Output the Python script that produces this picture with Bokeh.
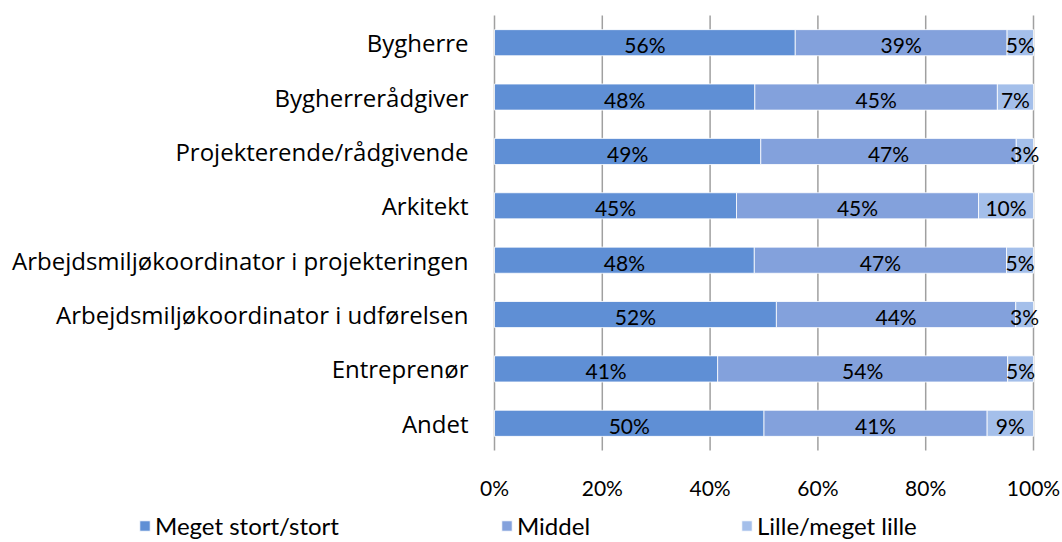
from bokeh.plotting import figure
from bokeh.models import (Range1d, FixedTicker, PrintfTickFormatter,
                          Legend, LegendItem, ColumnDataSource)
from bokeh.core.properties import value
from bokeh.embed import file_html
from bokeh.resources import INLINE

categories = ["Bygherre", "Bygherrerådgiver", "Projekterende/rådgivende", "Arkitekt",
              "Arbejdsmiljøkoordinator i projekteringen",
              "Arbejdsmiljøkoordinator i udførelsen", "Entreprenør", "Andet"]
series_names = ["Meget stort/stort", "Middel", "Lille/meget lille"]
meget = [55.8, 48.3, 49.4, 44.9, 48.2, 52.3, 41.4, 50.0]
middel = [39.3, 45.0, 47.4, 44.9, 46.8, 44.4, 53.8, 41.4]
lille = [4.9, 6.7, 3.2, 10.2, 5.0, 3.3, 4.8, 8.6]
x_ticks = [0, 20, 40, 60, 80, 100]
colors = ["#5f8fd5", "#83a1dc", "#a4bfea"]

# ---- layout geometry (pixels) ----
W, H = 1062, 542
PL, PR, PT, PB = 494, 1033, 15, 450          # plot area edges on the canvas
n = len(categories)
xscale = (PR - PL) / 100.0                    # px per percent
yscale = (PB - PT) / n                        # px per category
x_range = Range1d(-PL / xscale, 100 + (W - PR) / xscale)
y_range = Range1d(-(H - PB) / yscale, n + PT / yscale)

ypos = [n - i - 0.5 for i in range(n)]
src = ColumnDataSource(dict(y=ypos, meget=meget, middel=middel, lille=lille))

p = figure(width=W, height=H, x_range=x_range, y_range=y_range,
           output_backend="svg", toolbar_location=None,
           min_border_left=0, min_border_right=0, min_border_top=0, min_border_bottom=0)
p.outline_line_color = None
p.grid.visible = False

# vertical gridlines at the tick values, spanning the category block
p.segment(x0=x_ticks, y0=[0] * len(x_ticks), x1=x_ticks, y1=[n] * len(x_ticks),
          line_color="#a0a0a0", line_width=1.5, level="underlay")

rs = p.hbar_stack(["meget", "middel", "lille"], y="y", height=0.48, color=colors,
                  line_color="white", line_width=0.8, source=src)

# data labels
lx, ly, lt = [], [], []
for i in range(n):
    left = 0.0
    for arr in (meget, middel, lille):
        v = arr[i]
        lx.append(left + v / 2.0)
        ly.append(ypos[i])
        lt.append(f"{round(v)}%")
        left += v
lab_src = ColumnDataSource(dict(x=lx, y=ly, t=lt))
p.text(x="x", y="y", text="t", source=lab_src, text_align="center",
       text_baseline="middle", text_font=value("Lato"), text_font_size="21px",
       text_color="#000000", y_offset=2)

# x axis, pinned to the bottom of the category block
p.xaxis.fixed_location = 0
p.xaxis.ticker = FixedTicker(ticks=x_ticks)
p.xaxis.formatter = PrintfTickFormatter(format="%d%%")
p.xaxis.axis_line_color = None
p.xaxis.major_tick_line_color = None
p.xaxis.major_tick_out = 0
p.xaxis.major_tick_in = 0
p.xaxis.minor_tick_line_color = None
p.xaxis.major_label_text_font = "Lato"
p.xaxis.major_label_text_font_size = "21px"
p.xaxis.major_label_text_color = "#000000"
p.xaxis.major_label_standoff = 24

# y axis (categories), pinned at 0 %
p.yaxis.fixed_location = 0
p.yaxis.ticker = FixedTicker(ticks=ypos)
p.yaxis.major_label_overrides = {y: c for y, c in zip(ypos, categories)}
p.yaxis.axis_line_color = None
p.yaxis.major_tick_line_color = None
p.yaxis.major_tick_out = 0
p.yaxis.major_tick_in = 0
p.yaxis.minor_tick_line_color = None
p.yaxis.major_label_text_font = "Open Sans"
p.yaxis.major_label_text_font_size = "24px"
p.yaxis.major_label_text_color = "#000000"
p.yaxis.major_label_standoff = 26

# legend: one entry per series, below the axis
leg_x = [138, 500, 740]
for name, r, lxp in zip(series_names, rs, leg_x):
    leg = Legend(items=[LegendItem(label=name, renderers=[r])],
                 location=(lxp, 2), orientation="horizontal",
                 border_line_color=None, background_fill_alpha=0,
                 padding=0, margin=0, glyph_width=13, glyph_height=13,
                 label_standoff=4, label_text_font="Lato",
                 label_text_font_size="24px", label_text_color="#000000",
                 label_height=20)
    p.add_layout(leg, "center")

open("out.html", "w").write(file_html(p, INLINE))
